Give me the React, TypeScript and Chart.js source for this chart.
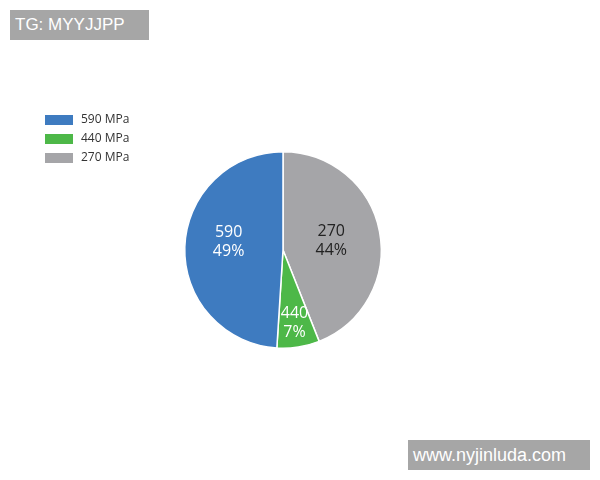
import React, { useEffect, useRef } from "react";
import { Chart, registerables } from "chart.js";

Chart.register(...registerables);

const categories = ["270", "440", "590"];
const legendLabels = ["590 MPa", "440 MPa", "270 MPa"];
const percentValues = [44, 7, 49];
const percentLabels = ["44%", "7%", "49%"];
const colors = ["#A5A5A8", "#4DB848", "#3E7BC0"];
const labelColors = ["#222222", "#ffffff", "#ffffff"];

// label placement tweaks (style, not data)
const labelRadiusFactor = [0.5, 0.75, 0.56];
const labelAngleShift = [0, 0, 0.12];

const sliceLabels = {
  id: "sliceLabels",
  afterDatasetsDraw(chart: any) {
    const ctx = chart.ctx;
    const meta = chart.getDatasetMeta(0);
    ctx.save();
    ctx.font = '16px "Open Sans", sans-serif';
    ctx.textAlign = "center";
    ctx.textBaseline = "middle";
    meta.data.forEach((arc: any, i: number) => {
      const { x, y, startAngle, endAngle, outerRadius } = arc.getProps(
        ["x", "y", "startAngle", "endAngle", "outerRadius"],
        true
      );
      const mid = (startAngle + endAngle) / 2 + labelAngleShift[i];
      const r = outerRadius * labelRadiusFactor[i];
      const cx = x + Math.cos(mid) * r;
      const cy = y + Math.sin(mid) * r;
      ctx.fillStyle = labelColors[i];
      ctx.fillText(categories[i], cx, cy - 9);
      ctx.fillText(percentLabels[i], cx, cy + 10);
    });
    ctx.restore();
  },
};

const customLegend = {
  id: "customLegend",
  afterDraw(chart: any) {
    const ctx = chart.ctx;
    ctx.save();
    ctx.font = '12px "Open Sans", sans-serif';
    ctx.textBaseline = "middle";
    ctx.textAlign = "left";
    legendLabels.forEach((t, i) => {
      const idx = categories.length - 1 - i;
      const y = 120 + i * 19;
      ctx.fillStyle = colors[idx];
      ctx.fillRect(45, y - 5, 28, 10);
      ctx.fillStyle = "#333333";
      ctx.fillText(t, 81, y);
    });
    ctx.restore();
  },
};

export default function App() {
  const ref = useRef<HTMLCanvasElement | null>(null);
  useEffect(() => {
    if (!ref.current) return;
    const chart = new Chart(ref.current, {
      type: "pie",
      data: {
        labels: categories,
        datasets: [
          {
            data: percentValues,
            backgroundColor: colors,
            borderColor: "#ffffff",
            borderWidth: 1.5,
          },
        ],
      },
      options: {
        responsive: false,
        animation: false,
        layout: { padding: { left: 184, right: 218, top: 151, bottom: 131 } },
        plugins: {
          legend: { display: false },
          tooltip: { enabled: false },
        },
      },
      plugins: [sliceLabels, customLegend],
    });
    return () => chart.destroy();
  }, []);

  const boxStyle: React.CSSProperties = {
    position: "absolute",
    background: "#A6A6A6",
    color: "#ffffff",
    fontFamily: '"Liberation Sans", Arial, sans-serif',
    display: "flex",
    alignItems: "center",
  };

  return (
    <div style={{ position: "fixed", left: 0, top: 0, width: 600, height: 480, background: "#fff" }}>
      <canvas ref={ref} width={600} height={480} style={{ display: "block" }} />
      <div style={{ ...boxStyle, left: 10, top: 10, width: 139, height: 30, fontSize: 17, paddingLeft: 5, boxSizing: "border-box" }}>
        TG: MYYJJPP
      </div>
      <div style={{ ...boxStyle, left: 408, top: 440, width: 182, height: 30, fontSize: 18, paddingLeft: 5, boxSizing: "border-box" }}>
        www.nyjinluda.com
      </div>
    </div>
  );
}
